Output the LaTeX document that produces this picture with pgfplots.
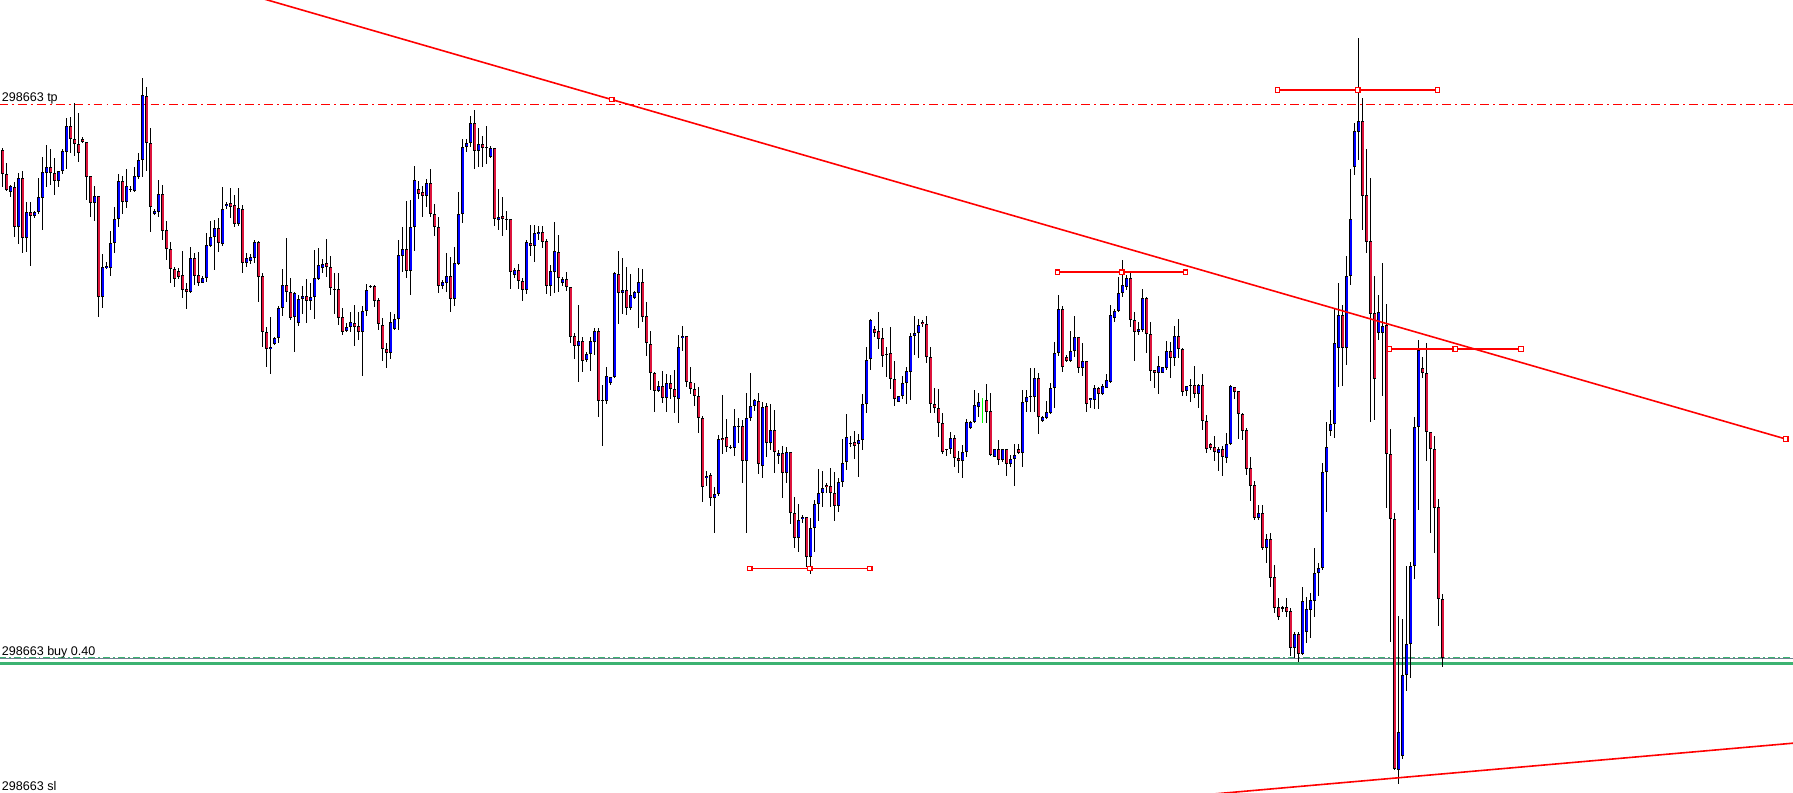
\documentclass[border=0pt]{standalone}
\usepackage{pgfplots}
\pgfplotsset{compat=1.18}
\usepackage{pgfplotstable}
\usepackage{fontspec}
\setmainfont{Liberation Sans}
\definecolor{bullc}{RGB}{0,0,255}
\definecolor{bearc}{RGB}{220,20,60}
\definecolor{buyg}{RGB}{60,179,113}
\definecolor{slate}{RGB}{112,128,144}
\definecolor{greentickc}{RGB}{0,255,0}
% columns: index, high, low, body top, body bottom (pixel rows, top = 0), kind (1 bull, 0 bear, 2 green tick)
\pgfplotstableread{
x h l t b k
0 148 187 150 174 0
1 163 191 174 190 0
2 185 197 186 192 1
3 182 237 187 227 0
4 173 244 178 227 1
5 171 253 178 238 0
6 202 252 212 238 1
7 202 266 212 216 0
8 211 218 212 216 1
9 178 214 197 212 1
10 157 230 172 198 1
11 145 187 167 173 1
12 149 185 167 173 0
13 158 195 173 181 0
14 171 187 171 181 1
15 149 174 151 171 1
16 118 169 126 152 1
17 117 153 126 139 0
18 103 156 139 144 0
19 113 162 144 153 0
20 137 143 139 142 0
21 142 200 142 177 0
22 176 217 176 203 0
23 186 221 196 203 1
24 196 317 196 297 0
25 254 308 267 297 1
26 262 269 266 268 1
27 231 276 243 268 1
28 207 253 219 243 1
29 174 227 181 219 1
30 176 214 181 202 0
31 169 208 186 202 1
32 186 192 189 190 1
33 167 192 176 191 1
34 153 179 160 177 1
35 78 177 95 160 1
36 87 171 96 143 0
37 128 232 143 207 0
38 209 215 211 214 1
39 180 217 194 212 1
40 185 240 194 231 0
41 221 260 230 249 0
42 242 283 249 269 0
43 267 287 269 279 0
44 268 279 271 277 0
45 251 298 275 290 0
46 283 309 289 292 0
47 247 293 258 292 1
48 253 285 258 276 0
49 252 286 275 283 0
50 276 283 278 283 1
51 233 282 245 278 1
52 221 247 237 246 1
53 220 270 228 237 1
54 218 252 228 243 0
55 187 246 209 244 1
56 202 209 204 206 1
57 188 218 203 207 0
58 195 227 205 224 0
59 188 226 208 224 1
60 205 273 209 263 0
61 253 267 258 263 1
62 254 264 257 261 1
63 240 263 242 258 1
64 241 302 242 277 0
65 273 347 276 332 0
66 327 367 332 349 0
67 317 374 347 349 1
68 337 345 338 344 1
69 306 343 308 338 1
70 269 316 285 308 1
71 238 302 285 292 0
72 278 320 292 318 0
73 292 352 293 317 1
74 295 326 299 323 1
75 286 314 296 299 1
76 279 323 296 301 0
77 283 310 297 301 1
78 250 319 278 297 1
79 248 280 265 279 1
80 259 273 264 268 1
81 239 277 263 267 0
82 256 295 267 288 0
83 273 314 289 290 0
84 273 325 289 318 0
85 308 335 317 332 0
86 323 332 327 331 1
87 312 332 322 327 1
88 305 346 323 327 0
89 312 340 326 332 0
90 306 376 311 332 1
91 284 316 290 311 1
92 285 288 286 287 1
93 285 307 286 301 0
94 298 330 300 324 0
95 318 361 325 349 0
96 343 368 349 353 0
97 312 359 322 353 1
98 314 330 319 329 1
99 240 330 255 319 1
100 227 272 249 256 1
101 201 278 249 271 0
102 200 295 227 271 1
103 166 251 180 227 1
104 181 199 189 194 0
105 186 217 192 196 0
106 179 207 183 196 1
107 169 217 183 214 0
108 204 236 214 227 0
109 217 293 227 286 0
110 280 289 282 286 1
111 253 292 276 283 1
112 257 312 276 299 0
113 247 306 263 299 1
114 192 265 214 264 1
115 139 223 147 214 1
116 139 152 143 147 1
117 116 147 123 143 1
118 110 169 123 151 0
119 128 167 144 151 1
120 136 167 144 148 0
121 126 164 147 148 0
122 146 158 148 157 1
123 148 226 148 219 0
124 189 230 217 220 1
125 197 236 216 219 0
126 211 230 219 220 0
127 219 289 219 272 0
128 268 278 270 275 1
129 264 289 270 281 0
130 278 301 281 290 0
131 240 294 242 290 1
132 225 256 243 246 0
133 225 262 233 246 1
134 226 240 232 234 1
135 226 248 232 242 0
136 239 294 241 286 0
137 265 296 271 286 1
138 222 293 251 272 1
139 235 292 252 278 0
140 277 286 279 283 1
141 272 291 279 287 0
142 287 343 287 337 0
143 333 359 336 346 0
144 305 382 341 346 1
145 337 372 341 361 0
146 352 362 354 360 1
147 337 371 341 354 1
148 328 355 331 342 1
149 328 417 331 401 0
150 385 446 400 401 0
151 367 404 376 401 1
152 377 385 377 383 1
153 272 378 273 377 1
154 251 324 274 293 0
155 258 314 290 293 1
156 267 315 290 308 0
157 274 310 295 308 1
158 291 299 292 298 1
159 268 328 282 293 1
160 269 322 282 317 0
161 302 356 316 343 0
162 331 390 344 373 0
163 372 412 373 391 0
164 381 392 386 391 1
165 371 403 386 398 0
166 374 412 383 398 1
167 375 399 383 389 0
168 370 413 389 397 0
169 335 423 347 399 1
170 326 351 336 338 1
171 336 387 336 382 0
172 367 394 382 389 0
173 383 406 389 396 0
174 387 433 396 418 0
175 416 502 418 487 0
176 471 486 476 478 1
177 473 506 475 498 0
178 487 533 494 498 1
179 435 496 439 494 1
180 395 454 438 440 0
181 419 452 437 447 0
182 445 449 447 448 1
183 409 456 426 448 1
184 418 443 426 427 0
185 420 483 426 461 0
186 393 533 418 461 1
187 373 421 406 418 1
188 399 411 400 406 1
189 393 474 401 464 0
190 402 478 407 466 1
191 403 457 406 443 0
192 404 450 430 443 1
193 410 473 430 452 0
194 450 464 453 456 1
195 446 498 453 473 0
196 447 483 452 473 1
197 452 524 452 513 0
198 497 548 513 538 0
199 504 552 520 538 1
200 515 523 517 519 1
201 517 567 517 557 0
202 518 574 528 557 1
203 500 552 504 528 1
204 469 521 493 504 1
205 471 507 488 493 1
206 483 493 485 487 0
207 468 507 486 493 0
208 472 521 493 506 0
209 478 512 482 506 1
210 439 487 463 482 1
211 414 470 437 462 1
212 436 447 443 444 1
213 431 459 442 446 0
214 434 477 440 444 1
215 394 450 404 440 1
216 347 413 360 404 1
217 319 370 320 359 1
218 326 337 329 333 0
219 312 349 331 339 0
220 328 367 338 356 0
221 347 377 354 355 0
222 327 389 353 379 0
223 361 406 379 399 0
224 396 402 396 402 1
225 376 399 383 396 1
226 367 404 371 383 1
227 333 400 336 372 1
228 316 355 333 336 1
229 319 358 325 333 1
230 320 327 322 324 0
231 316 363 324 357 0
232 347 413 357 404 0
233 388 413 404 408 0
234 389 437 408 423 0
235 413 454 423 452 0
236 449 456 449 450 0
237 432 454 438 449 1
238 435 467 438 458 0
239 451 473 458 461 0
240 445 478 452 461 1
241 419 457 422 452 1
242 421 429 422 428 1
243 390 423 405 422 1
244 393 417 402 407 1
245 398 423 401 402 2
246 384 423 400 412 0
247 393 456 411 455 0
248 449 457 449 457 1
249 440 465 449 460 0
250 449 462 449 460 1
251 449 476 449 464 0
252 455 467 459 464 1
253 444 486 455 459 1
254 444 454 449 453 0
255 390 467 402 453 1
256 390 412 397 402 1
257 368 412 396 397 1
258 368 412 378 397 1
259 373 434 378 417 0
260 416 422 417 421 1
261 401 419 412 418 1
262 383 414 388 413 1
263 342 408 353 388 1
264 295 356 309 353 1
265 306 372 309 367 0
266 355 362 357 361 0
267 331 362 351 361 1
268 316 357 337 351 1
269 337 373 337 368 0
270 343 376 361 368 1
271 361 412 361 404 0
272 398 408 398 400 1
273 385 409 388 400 1
274 387 409 388 394 0
275 384 395 386 394 1
276 374 388 380 388 1
277 305 383 315 382 1
278 309 322 311 318 1
279 277 312 293 311 1
280 260 297 285 293 1
281 275 290 278 287 1
282 273 327 278 320 0
283 312 361 320 332 0
284 322 335 329 332 1
285 289 332 298 330 1
286 297 353 298 334 0
287 322 381 334 371 0
288 370 388 370 373 0
289 356 394 366 373 1
290 367 373 367 373 1
291 341 370 351 368 1
292 342 378 351 358 0
293 326 366 336 358 1
294 319 358 336 349 0
295 348 396 349 392 0
296 386 396 386 391 1
297 379 402 385 386 0
298 366 398 385 394 0
299 384 408 385 394 1
300 374 430 385 421 0
301 415 453 421 449 0
302 443 450 444 448 0
303 436 461 447 452 0
304 447 471 449 453 1
305 446 476 449 457 0
306 433 463 444 458 1
307 385 445 386 444 1
308 387 399 387 392 0
309 391 439 391 414 0
310 413 440 414 431 0
311 428 475 430 469 0
312 457 501 468 486 0
313 481 520 485 518 0
314 505 520 513 518 1
315 505 550 513 548 0
316 534 563 539 548 1
317 533 587 539 578 0
318 565 613 577 608 0
319 598 620 607 617 0
320 606 612 607 608 0
321 598 617 607 612 0
322 608 656 611 648 0
323 632 658 634 648 1
324 632 662 634 654 0
325 587 655 601 654 1
326 597 643 609 632 1
327 593 638 600 610 1
328 548 617 573 601 1
329 563 596 568 573 1
330 463 570 472 568 1
331 422 512 447 472 1
332 410 436 424 431 1
333 308 438 343 424 1
334 283 387 315 348 1
335 305 386 315 348 0
336 256 365 276 348 1
337 169 285 219 276 1
338 123 175 131 167 1
339 38 160 121 132 1
340 98 230 121 196 0
341 149 253 195 242 0
342 178 422 241 314 0
343 276 420 313 379 0
344 295 340 312 333 1
345 263 396 326 333 1
346 304 508 325 454 0
347 429 642 454 519 0
348 513 770 519 769 0
349 616 784 732 770 1
350 619 759 675 756 1
351 566 691 644 675 1
352 562 678 566 644 1
353 417 579 427 566 1
354 340 510 350 427 1
355 357 378 368 373 0
356 343 461 373 432 0
357 432 533 432 449 0
358 436 553 449 508 0
359 499 626 507 599 0
360 594 667 599 658 0
}\candles
\begin{document}
\begin{tikzpicture}
\begin{axis}[
  scale only axis, width=1793bp, height=793bp,
  xmin=-0.625, xmax=447.625, ymin=0, ymax=793, y dir=reverse,
  axis line style={draw=none}, xtick=\empty, ytick=\empty, clip=true]
% take profit level
\addplot[red, line width=1bp, dash pattern=on 9bp off 4bp on 2bp off 4bp] coordinates {(-1,104.5) (448,104.5)};
% buy levels
\addplot[slate, line width=1bp] coordinates {(-1,658.5) (448,658.5)};
\addplot[buyg, line width=1.4bp, dash pattern=on 7bp off 3bp on 2bp off 3bp] coordinates {(-1,657.5) (448,657.5)};
\addplot[buyg, line width=3bp] coordinates {(-1,663.5) (448,663.5)};
% wicks
\addplot[draw=none, mark=none, forget plot,
  error bars/.cd, y dir=both, y explicit, error mark=none,
  error bar style={draw=black, line width=1bp, line cap=butt}]
  table[x=x, y expr={(\thisrow{h}+\thisrow{l})/2}, y error expr={(\thisrow{l}-\thisrow{h})/2},
        restrict y to domain=-100:1000] {\candles};
% green tick candle
\addplot[draw=none, mark=none, forget plot,
  error bars/.cd, y dir=both, y explicit, error mark=none,
  error bar style={draw=greentickc, line width=1.2bp, line cap=butt}]
  table[x=x, y expr={(\thisrow{h}+\thisrow{l})/2 + 10000*abs(\thisrow{k}-2)}, y error expr={(\thisrow{l}-\thisrow{h})/2},
        restrict y to domain=-100:1000] {\candles};
% bull bodies
\addplot[draw=none, mark=none, forget plot,
  error bars/.cd, y dir=both, y explicit, error mark=none,
  error bar style={draw=black, line width=3.3bp, line cap=butt}]
  table[x=x, y expr={(\thisrow{t}+\thisrow{b})/2 + 10000*abs(\thisrow{k}-1)}, y error expr={(\thisrow{b}-\thisrow{t})/2},
        restrict y to domain=-100:1000] {\candles};
\addplot[draw=none, mark=none, forget plot,
  error bars/.cd, y dir=both, y explicit, error mark=none,
  error bar style={draw=bullc, line width=2.0bp, line cap=butt}]
  table[x=x, y expr={(\thisrow{t}+\thisrow{b})/2 + 10000*abs(\thisrow{k}-1)}, y error expr={max((\thisrow{b}-\thisrow{t})/2-0.6,0)},
        restrict y to domain=-100:1000] {\candles};
% bear bodies
\addplot[draw=none, mark=none, forget plot,
  error bars/.cd, y dir=both, y explicit, error mark=none,
  error bar style={draw=black, line width=3.3bp, line cap=butt}]
  table[x=x, y expr={(\thisrow{t}+\thisrow{b})/2 + 10000*\thisrow{k}}, y error expr={(\thisrow{b}-\thisrow{t})/2},
        restrict y to domain=-100:1000] {\candles};
\addplot[draw=none, mark=none, forget plot,
  error bars/.cd, y dir=both, y explicit, error mark=none,
  error bar style={draw=bearc, line width=2.0bp, line cap=butt}]
  table[x=x, y expr={(\thisrow{t}+\thisrow{b})/2 + 10000*\thisrow{k}}, y error expr={max((\thisrow{b}-\thisrow{t})/2-0.6,0)},
        restrict y to domain=-100:1000] {\candles};
% trend lines
\addplot[red, line width=1.6bp] coordinates {(60,-7.2) (445.8,439)};
\addplot[red, line width=1.6bp] coordinates {(299.3,795.2) (449.3,742.6)};
% horizontal segments
\addplot[red, line width=1.6bp] coordinates {(186.8,568.5) (216.8,568.5)};
\addplot[red, line width=1.6bp] coordinates {(263.75,272.3) (295.75,272.3)};
\addplot[red, line width=1.6bp] coordinates {(318.75,90) (358.75,90)};
\addplot[red, line width=1.6bp] coordinates {(346.75,349) (379.6,349)};
% anchor squares
\addplot[only marks, mark=square*, mark size=2.3bp, mark options={fill=white, draw=red, line width=1.2bp}] coordinates {
(152.3,99.5) (445.8,439)
(186.8,568.5) (201.8,568.5) (216.8,568.5)
(263.75,272.3) (279.8,272.3) (295.75,272.3)
(318.75,90) (338.8,90) (358.75,90)
(346.75,349) (363.2,349) (379.6,349)};
% labels
\node[anchor=base west, inner sep=0pt, font=\fontsize{12.6}{14}\selectfont] at (axis cs:-0.2,101.5) {298663 tp};
\node[anchor=base west, inner sep=0pt, font=\fontsize{12.6}{14}\selectfont] at (axis cs:-0.2,655) {298663 buy 0.40};
\node[anchor=base west, inner sep=0pt, font=\fontsize{12.6}{14}\selectfont] at (axis cs:-0.2,790.5) {298663 sl};
\end{axis}
\end{tikzpicture}
\end{document}
